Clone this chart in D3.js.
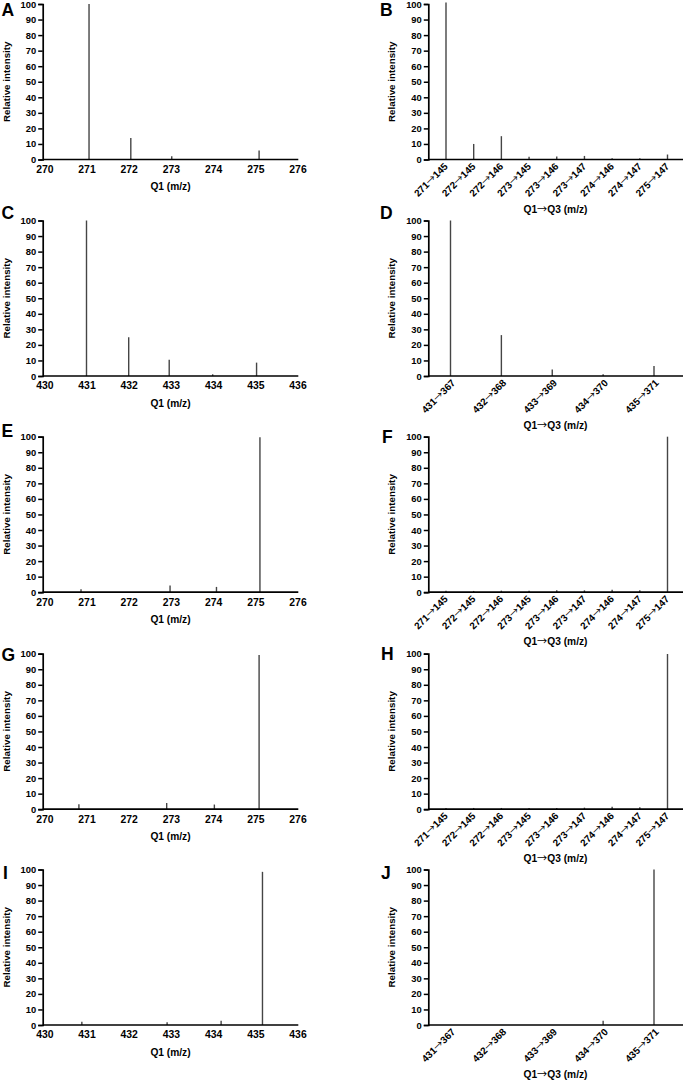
<!DOCTYPE html>
<html><head><meta charset="utf-8">
<script src="https://cdn.jsdelivr.net/npm/d3@7"></script>
<style>
body{margin:0;background:#fff}
svg{display:block}
text{font-family:"Liberation Sans",Arial,sans-serif;font-weight:bold;fill:#000}
.arr{font-family:"Noto Sans CJK SC","DejaVu Sans",sans-serif;font-weight:normal}
</style>
</head><body>
<svg id="c" width="683" height="1080"></svg>
<script>
// ---------- data ----------
const yTicks = [0,10,20,30,40,50,60,70,80,90,100];
const q1TicksLow = [270,271,272,273,274,275,276];
const q1TicksHigh = [430,431,432,433,434,435,436];
const transitionsLow = ["271→145","272→145","272→146","273→145","273→146","273→147","274→146","274→147","275→147"];
const transitionsHigh = ["431→367","432→368","433→369","434→370","435→371"];

const mzA = [271.06,272.05,273.02,275.09];
const intA = [100,13.9,2.1,5.8];
const intB = [101,10,15,1.7,2,2.3,0.8,0.8,3.2];
const mzC = [431.0,432.0,432.96,433.99,435.03];
const intC = [100,25,10.5,1.1,8.6];
const intD = [100,26.3,4.1,1.1,6.5];
const mzE = [270.87,272.98,274.08,275.11];
const intE = [1.9,4.3,3.4,99.6];
const intF = [1,0.8,1,1,1.2,1.2,1.5,1.2,100];
const mzG = [270.82,272.9,274.03,275.09];
const intG = [3.2,4,3,99.2];
const intH = [0.8,0.8,0.8,0.8,0.8,1,1.5,1.2,99.8];
const mzI = [430.89,432.91,434.19,435.17];
const intI = [2.1,1.7,2.8,98.5];
const intJ = [0,0,0,2.8,100];

const yTitle = "Relative intensity";
const q1Title = "Q1 (m/z)";
const q3Title = "Q1→Q3 (m/z)";

// ---------- layout ----------
const svg = d3.select("#c");
const rowTop = [4, 220.5, 436.7, 653.7, 869.5];
const plotH = 155.5;
const barColor = "#454545";
const FF = "'Liberation Sans',Arial,sans-serif";

function arrowText(sel, str){
  const parts = str.split("→");
  sel.text(null);
  sel.append("tspan").text(parts[0]);
  sel.append("tspan").attr("class","arr").text("→");
  sel.append("tspan").text(parts[1]);
}

function yAxisAndTitle(g, axisX, y, titleX){
  g.append("g").attr("transform",`translate(${axisX},0)`)
    .call(d3.axisLeft(y).tickValues(yTicks).tickSize(4.5).tickPadding(2))
    .call(a=>{
      a.selectAll("path").attr("stroke","#000").attr("stroke-width",1.7);
      a.selectAll("line").attr("stroke","#000").attr("stroke-width",1.5);
      a.selectAll("text").style("font-size","9.4px").style("font-family",FF).style("font-weight","bold");
    });
  const [y0,y1] = y.range();
  g.append("text").attr("transform",`translate(${titleX},${(y0+y1)/2}) rotate(-90)`)
    .attr("text-anchor","middle").style("font-size","9.8px").text(yTitle);
}

function drawLeft(letter, letterPos, row, ticks, mz, vals){
  const g = svg.append("g");
  const top = rowTop[row], y0 = top+plotH;
  const y = d3.scaleLinear().domain([0,100]).range([y0, top]);
  const x = d3.scaleLinear().domain([ticks[0], ticks[ticks.length-1]]).range([44.3, 297.5]);
  const axisX = 42.7;
  g.selectAll("line.bar").data(mz.map((m,i)=>({m, v:vals[i]})).filter(d=>d.v>0)).join("line")
    .attr("class","bar")
    .attr("x1",d=>x(d.m)).attr("x2",d=>x(d.m))
    .attr("y1",y(0)).attr("y2",d=>y(d.v))
    .attr("stroke",barColor).attr("stroke-width",1.4);
  g.append("g").attr("transform",`translate(0,${y0})`)
    .call(d3.axisBottom(x).tickValues(ticks).tickSize(0).tickPadding(6).tickFormat(d3.format("d")))
    .call(a=>{
      a.select("path").remove();
      a.selectAll("text").style("font-size","10.4px").style("font-family",FF).style("font-weight","bold");
    });
  g.append("line").attr("x1",axisX).attr("x2",298.3).attr("y1",y0).attr("y2",y0)
    .attr("stroke","#000").attr("stroke-width",1.7);
  yAxisAndTitle(g, axisX, y, 9.8);
  g.append("text").attr("x",170.5).attr("y",y0+30.5).attr("text-anchor","middle")
    .style("font-size","10.2px").text(q1Title);
  g.append("text").attr("x",letterPos[0]).attr("y",letterPos[1]).style("font-size","17.5px").text(letter);
}

function drawRight(letter, letterPos, row, cats, vals, range, dx){
  const g = svg.append("g");
  const top = rowTop[row], y0 = top+plotH;
  const y = d3.scaleLinear().domain([0,100]).range([y0, top]);
  const x = d3.scalePoint().domain(cats).range(range);
  const axisX = 428.3;
  g.selectAll("line.bar").data(cats.map((c,i)=>({c, v:vals[i]})).filter(d=>d.v>0)).join("line")
    .attr("class","bar")
    .attr("x1",d=>x(d.c)).attr("x2",d=>x(d.c))
    .attr("y1",y(0)).attr("y2",d=>y(d.v))
    .attr("stroke",barColor).attr("stroke-width",1.4);
  g.append("g").attr("transform",`translate(0,${y0})`)
    .call(d3.axisBottom(x).tickSize(0).tickPadding(0))
    .call(a=>{
      a.select("path").remove();
      a.selectAll("text")
        .attr("y",0).attr("dy",0)
        .attr("text-anchor","end")
        .attr("transform",`translate(${dx},7.5) rotate(-45)`)
        .style("font-size","9.9px").style("font-family",FF).style("font-weight","bold")
        .each(function(d){ arrowText(d3.select(this), d); });
    });
  g.append("line").attr("x1",axisX).attr("x2",683).attr("y1",y0).attr("y2",y0)
    .attr("stroke","#000").attr("stroke-width",1.7);
  yAxisAndTitle(g, axisX, y, 394.8);
  const t = g.append("text").attr("x",555.5).attr("y",y0+53).attr("text-anchor","middle")
    .style("font-size","10.2px");
  arrowText(t, q3Title);
  g.append("text").attr("x",letterPos[0]).attr("y",letterPos[1]).style("font-size","17.5px").text(letter);
}

const r9 = [446, 667.5], r5 = [450.5, 654];
drawLeft("A",[1.5,16],0,q1TicksLow,mzA,intA);
drawRight("B",[380,16],0,transitionsLow,intB,r9,2);
drawLeft("C",[1.5,218.5],1,q1TicksHigh,mzC,intC);
drawRight("D",[380,218.5],1,transitionsHigh,intD,r5,5);
drawLeft("E",[1.5,436.5],2,q1TicksLow,mzE,intE);
drawRight("F",[382,442.5],2,transitionsLow,intF,r9,2);
drawLeft("G",[1.5,660.5],3,q1TicksLow,mzG,intG);
drawRight("H",[381,659.5],3,transitionsLow,intH,r9,2);
drawLeft("I",[3,879],4,q1TicksHigh,mzI,intI);
drawRight("J",[381,879],4,transitionsHigh,intJ,r5,5);
</script>
</body></html>
